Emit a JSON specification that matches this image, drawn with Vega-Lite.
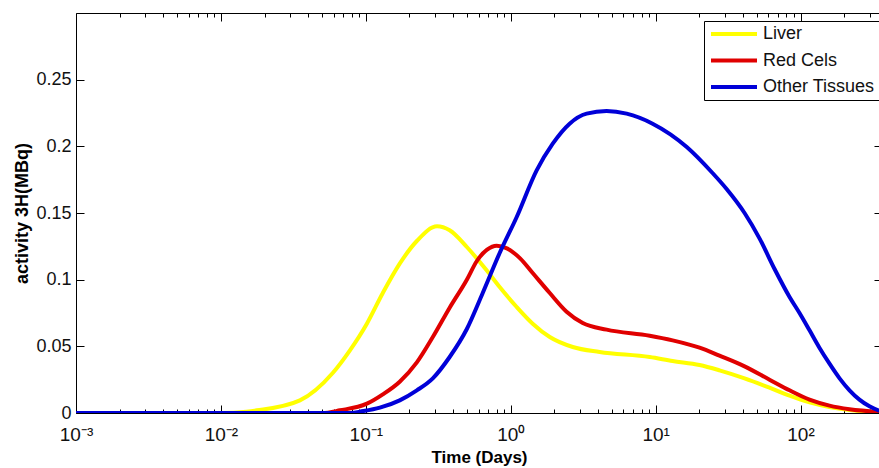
{
  "$schema": "https://vega.github.io/schema/vega-lite/v6.json",
  "width": 806,
  "height": 400,
  "autosize": {"type": "none"},
  "padding": {"left": 76, "top": 13, "right": 0, "bottom": 55},
  "background": "white",
  "config": {
    "view": {"stroke": null},
    "font": "Liberation Sans",
    "axis": {"domainColor": "#000", "tickColor": "#000", "labelColor": "#111", "grid": false, "labelFont": "Liberation Sans", "titleFont": "Liberation Sans"}
  },
  "datasets": {
    "curves": [
      {"t": 0.001, "v": 0, "s": "Liver"},
      {"t": 0.005, "v": 0, "s": "Liver"},
      {"t": 0.01, "v": 0, "s": "Liver"},
      {"t": 0.015, "v": 0.001, "s": "Liver"},
      {"t": 0.0177, "v": 0.002, "s": "Liver"},
      {"t": 0.0351, "v": 0.0095, "s": "Liver"},
      {"t": 0.0591, "v": 0.030, "s": "Liver"},
      {"t": 0.0777, "v": 0.047, "s": "Liver"},
      {"t": 0.1017, "v": 0.067, "s": "Liver"},
      {"t": 0.131, "v": 0.090, "s": "Liver"},
      {"t": 0.1714, "v": 0.112, "s": "Liver"},
      {"t": 0.225, "v": 0.129, "s": "Liver"},
      {"t": 0.31, "v": 0.140, "s": "Liver"},
      {"t": 0.379, "v": 0.137, "s": "Liver"},
      {"t": 0.498, "v": 0.1245, "s": "Liver"},
      {"t": 0.682, "v": 0.107, "s": "Liver"},
      {"t": 0.839, "v": 0.0945, "s": "Liver"},
      {"t": 1.10, "v": 0.0795, "s": "Liver"},
      {"t": 1.418, "v": 0.067, "s": "Liver"},
      {"t": 1.86, "v": 0.057, "s": "Liver"},
      {"t": 2.68, "v": 0.0495, "s": "Liver"},
      {"t": 4.11, "v": 0.0458, "s": "Liver"},
      {"t": 9.1, "v": 0.042, "s": "Liver"},
      {"t": 13.1, "v": 0.039, "s": "Liver"},
      {"t": 20.1, "v": 0.036, "s": "Liver"},
      {"t": 27.6, "v": 0.032, "s": "Liver"},
      {"t": 41.1, "v": 0.026, "s": "Liver"},
      {"t": 61.1, "v": 0.019, "s": "Liver"},
      {"t": 84.0, "v": 0.013, "s": "Liver"},
      {"t": 115.4, "v": 0.008, "s": "Liver"},
      {"t": 158.5, "v": 0.0045, "s": "Liver"},
      {"t": 217.8, "v": 0.0022, "s": "Liver"},
      {"t": 365, "v": 0.0004, "s": "Liver"},

      {"t": 0.001, "v": 0, "s": "Red Cels"},
      {"t": 0.01, "v": 0, "s": "Red Cels"},
      {"t": 0.05, "v": 0, "s": "Red Cels"},
      {"t": 0.0663, "v": 0.002, "s": "Red Cels"},
      {"t": 0.1017, "v": 0.007, "s": "Red Cels"},
      {"t": 0.131, "v": 0.014, "s": "Red Cels"},
      {"t": 0.1714, "v": 0.0235, "s": "Red Cels"},
      {"t": 0.225, "v": 0.038, "s": "Red Cels"},
      {"t": 0.29, "v": 0.057, "s": "Red Cels"},
      {"t": 0.379, "v": 0.079, "s": "Red Cels"},
      {"t": 0.498, "v": 0.100, "s": "Red Cels"},
      {"t": 0.584, "v": 0.114, "s": "Red Cels"},
      {"t": 0.687, "v": 0.1225, "s": "Red Cels"},
      {"t": 0.80, "v": 0.1255, "s": "Red Cels"},
      {"t": 0.941, "v": 0.1235, "s": "Red Cels"},
      {"t": 1.161, "v": 0.116, "s": "Red Cels"},
      {"t": 1.418, "v": 0.105, "s": "Red Cels"},
      {"t": 1.86, "v": 0.090, "s": "Red Cels"},
      {"t": 2.43, "v": 0.076, "s": "Red Cels"},
      {"t": 3.14, "v": 0.0675, "s": "Red Cels"},
      {"t": 4.59, "v": 0.0625, "s": "Red Cels"},
      {"t": 9.1, "v": 0.058, "s": "Red Cels"},
      {"t": 13.1, "v": 0.0545, "s": "Red Cels"},
      {"t": 20.1, "v": 0.049, "s": "Red Cels"},
      {"t": 27.6, "v": 0.043, "s": "Red Cels"},
      {"t": 41.1, "v": 0.035, "s": "Red Cels"},
      {"t": 61.1, "v": 0.025, "s": "Red Cels"},
      {"t": 84.0, "v": 0.017, "s": "Red Cels"},
      {"t": 115.4, "v": 0.010, "s": "Red Cels"},
      {"t": 158.5, "v": 0.0055, "s": "Red Cels"},
      {"t": 217.8, "v": 0.0028, "s": "Red Cels"},
      {"t": 365, "v": 0.0007, "s": "Red Cels"},

      {"t": 0.001, "v": 0, "s": "Other Tissues"},
      {"t": 0.01, "v": 0, "s": "Other Tissues"},
      {"t": 0.08, "v": 0, "s": "Other Tissues"},
      {"t": 0.0911, "v": 0.001, "s": "Other Tissues"},
      {"t": 0.125, "v": 0.004, "s": "Other Tissues"},
      {"t": 0.1714, "v": 0.0095, "s": "Other Tissues"},
      {"t": 0.225, "v": 0.017, "s": "Other Tissues"},
      {"t": 0.29, "v": 0.026, "s": "Other Tissues"},
      {"t": 0.379, "v": 0.042, "s": "Other Tissues"},
      {"t": 0.498, "v": 0.063, "s": "Other Tissues"},
      {"t": 0.641, "v": 0.090, "s": "Other Tissues"},
      {"t": 0.839, "v": 0.120, "s": "Other Tissues"},
      {"t": 1.10, "v": 0.147, "s": "Other Tissues"},
      {"t": 1.51, "v": 0.182, "s": "Other Tissues"},
      {"t": 1.95, "v": 0.202, "s": "Other Tissues"},
      {"t": 2.55, "v": 0.217, "s": "Other Tissues"},
      {"t": 3.34, "v": 0.2245, "s": "Other Tissues"},
      {"t": 4.59, "v": 0.2265, "s": "Other Tissues"},
      {"t": 6.31, "v": 0.2245, "s": "Other Tissues"},
      {"t": 9.53, "v": 0.217, "s": "Other Tissues"},
      {"t": 16.4, "v": 0.1995, "s": "Other Tissues"},
      {"t": 24.7, "v": 0.180, "s": "Other Tissues"},
      {"t": 30.9, "v": 0.168, "s": "Other Tissues"},
      {"t": 41.1, "v": 0.150, "s": "Other Tissues"},
      {"t": 52.1, "v": 0.131, "s": "Other Tissues"},
      {"t": 66.2, "v": 0.108, "s": "Other Tissues"},
      {"t": 84.0, "v": 0.087, "s": "Other Tissues"},
      {"t": 98.4, "v": 0.075, "s": "Other Tissues"},
      {"t": 115.4, "v": 0.062, "s": "Other Tissues"},
      {"t": 135, "v": 0.049, "s": "Other Tissues"},
      {"t": 158.5, "v": 0.037, "s": "Other Tissues"},
      {"t": 186, "v": 0.026, "s": "Other Tissues"},
      {"t": 217.8, "v": 0.017, "s": "Other Tissues"},
      {"t": 255, "v": 0.010, "s": "Other Tissues"},
      {"t": 299, "v": 0.005, "s": "Other Tissues"},
      {"t": 345, "v": 0.002, "s": "Other Tissues"},
      {"t": 365, "v": 0.0013, "s": "Other Tissues"}
    ]
  },
  "data": {"name": "curves"},
  "layer": [
    {
      "mark": {"type": "line", "strokeWidth": 4, "interpolate": "monotone", "clip": true},
      "encoding": {
        "x": {
          "field": "t", "type": "quantitative",
          "scale": {"type": "log", "domain": [0.001, 365], "nice": false},
          "axis": {
            "orient": "bottom",
            "title": "Time (Days)",
            "titleFontSize": 17, "titleFontWeight": "bold", "titleColor": "#000", "titlePadding": 1,
            "values": [0.001,0.002,0.003,0.004,0.005,0.006,0.007,0.008,0.009,0.01,0.02,0.03,0.04,0.05,0.06,0.07,0.08,0.09,0.1,0.2,0.3,0.4,0.5,0.6,0.7,0.8,0.9,1,2,3,4,5,6,7,8,9,10,20,30,40,50,60,70,80,90,100,200,300],
            "labelExpr": "datum.value==0.001?'10⁻³':datum.value==0.01?'10⁻²':datum.value==0.1?'10⁻¹':datum.value==1?'10⁰':datum.value==10?'10¹':datum.value==100?'10²':''",
            "labelFontSize": 19, "labelFlush": false, "labelOverlap": false, "labelBound": false, "labelPadding": 20,
            "tickSize": {"condition": {"test": "indexof([0.001,0.01,0.1,1,10,100], datum.value) >= 0", "value": -8}, "value": -4}
          }
        },
        "y": {
          "field": "v", "type": "quantitative",
          "scale": {"domain": [0, 0.3], "nice": false},
          "axis": {
            "orient": "left",
            "title": "activity 3H(MBq)",
            "titleFontSize": 18, "titleFontWeight": "bold", "titleColor": "#000", "titlePadding": 4,
            "values": [0, 0.05, 0.1, 0.15, 0.2, 0.25],
            "labelExpr": "datum.value==0?'0':format(datum.value,'.2~f')",
            "labelFontSize": 18, "labelPadding": 13,
            "tickSize": -8
          }
        },
        "color": {
          "field": "s", "type": "nominal",
          "scale": {"domain": ["Liver", "Red Cels", "Other Tissues"], "range": ["#ffff00", "#e00000", "#0000d8"]},
          "legend": {
            "title": null, "orient": "none", "legendX": 628, "legendY": 8,
            "symbolType": "M0,0H8", "symbolSize": 132.25, "symbolStrokeWidth": 4, "symbolOffset": -6,
            "labelFontSize": 18, "labelColor": "#111", "labelOffset": 43, "labelFont": "Liberation Sans",
            "padding": 4, "rowPadding": 8.5,
            "strokeColor": "#000", "fillColor": "#fff"
          }
        }
      }
    },
    {
      "mark": {"type": "line", "strokeOpacity": 0},
      "encoding": {
        "x": {
          "field": "t", "type": "quantitative",
          "axis": {
            "orient": "top", "title": null, "labels": false,
            "values": [0.001,0.002,0.003,0.004,0.005,0.006,0.007,0.008,0.009,0.01,0.02,0.03,0.04,0.05,0.06,0.07,0.08,0.09,0.1,0.2,0.3,0.4,0.5,0.6,0.7,0.8,0.9,1,2,3,4,5,6,7,8,9,10,20,30,40,50,60,70,80,90,100,200,300],
            "tickSize": {"condition": {"test": "indexof([0.001,0.01,0.1,1,10,100], datum.value) >= 0", "value": -8}, "value": -4}
          }
        },
        "y": {
          "field": "v", "type": "quantitative",
          "axis": {
            "orient": "right", "title": null, "labels": false,
            "values": [0, 0.05, 0.1, 0.15, 0.2, 0.25],
            "tickSize": -8
          }
        },
        "detail": {"field": "s"}
      }
    }
  ],
  "resolve": {"axis": {"x": "independent", "y": "independent"}}
}
